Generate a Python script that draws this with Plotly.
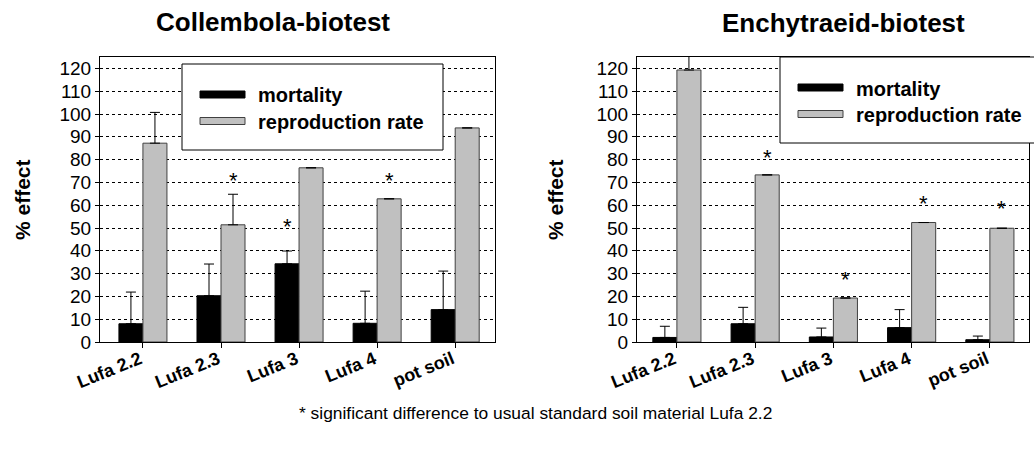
import plotly.graph_objects as go

categories = ["Lufa 2.2", "Lufa 2.3", "Lufa 3", "Lufa 4", "pot soil"]
series_names = ["mortality", "reproduction rate"]

# Collembola-biotest
col_mortality = [8.0, 20.3, 34.3, 8.2, 14.2]
col_mortality_err = [13.9, 13.9, 5.6, 14.1, 16.9]
col_reproduction = [87.2, 51.4, 76.4, 62.8, 93.9]
col_reproduction_err = [13.5, 13.4, 0, 0, 0]
col_stars = [("Lufa 2.3", "reproduction", 72.8), ("Lufa 3", "mortality", 52.4), ("Lufa 4", "reproduction", 72.8)]

# Enchytraeid-biotest
enc_mortality = [2.0, 8.0, 2.2, 6.3, 1.0]
enc_mortality_err = [4.9, 7.2, 3.9, 7.9, 1.6]
enc_reproduction = [119.3, 73.3, 19.3, 52.4, 49.9]
enc_reproduction_err = [10, 0, 0, 0, 0]
enc_stars = [("Lufa 2.3", "reproduction", 82.5), ("Lufa 3", "reproduction", 29.2),
             ("Lufa 4", "reproduction", 62.3), ("pot soil", "reproduction", 60.1)]

titles = ["Collembola-biotest", "Enchytraeid-biotest"]
y_title = "% effect"
footnote = "* significant difference to usual standard soil material Lufa 2.2"
y_ticks = list(range(0, 121, 10))

W, H = 1034, 452
FONT = "Liberation Sans, Arial, sans-serif"
BLACK, GREY, GREY_LINE = "#000000", "#C0C0C0", "#404040"

def px_x(p):
    return p / W

def px_y(p):
    return 1 - p / H

fig = go.Figure()

panels = [
    dict(xa="x", ya="y", mort=col_mortality, merr=col_mortality_err,
         rep=col_reproduction, rerr=col_reproduction_err, stars=col_stars,
         legend_box=(182, 64)),
    dict(xa="x2", ya="y2", mort=enc_mortality, merr=enc_mortality_err,
         rep=enc_reproduction, rerr=enc_reproduction_err, stars=enc_stars,
         legend_box=(780, 57)),
]

shapes = []
for p in panels:
    fig.add_trace(go.Bar(
        x=categories, y=p["mort"], name=series_names[0], xaxis=p["xa"], yaxis=p["ya"],
        showlegend=False,
        marker=dict(color=BLACK, line=dict(color=BLACK, width=1)),
        error_y=dict(type="data", array=p["merr"], arrayminus=[0] * 5, symmetric=False,
                     color=BLACK, thickness=1, width=5),
    ))
    fig.add_trace(go.Bar(
        x=categories, y=p["rep"], name=series_names[1], xaxis=p["xa"], yaxis=p["ya"],
        showlegend=False,
        marker=dict(color=GREY, line=dict(color=GREY_LINE, width=1)),
        error_y=dict(type="data", array=p["rerr"], arrayminus=[0] * 5, symmetric=False,
                     color=BLACK, thickness=1, width=5),
    ))
    for cat, series, yv in p["stars"]:
        fig.add_annotation(x=cat, y=yv, xref=p["xa"], yref=p["ya"], text="*",
                           xanchor="center", yanchor="middle",
                           showarrow=False, xshift=-12 if series == "mortality" else 12,
                           yshift=-4, font=dict(size=22, family=FONT, color=BLACK))
    # legend box
    bx, by = p["legend_box"]
    shapes.append(dict(type="rect", xref="paper", yref="paper", x0=px_x(bx), x1=px_x(bx + 261),
                       y0=px_y(by + 86), y1=px_y(by), line=dict(color=BLACK, width=1),
                       fillcolor="white", layer="above"))
    for i, (name, fill, edge) in enumerate(zip(series_names, [BLACK, GREY], [BLACK, GREY_LINE])):
        cy = by + 30.5 + 26.5 * i
        shapes.append(dict(type="rect", xref="paper", yref="paper",
                           x0=px_x(bx + 18), x1=px_x(bx + 63),
                           y0=px_y(cy + 3.5), y1=px_y(cy - 3.5),
                           fillcolor=fill, line=dict(color=edge, width=1), layer="above"))
        fig.add_annotation(x=px_x(bx + 74), y=px_y(cy + 1), xref="paper", yref="paper",
                           xanchor="left", yanchor="middle", text=name, showarrow=False,
                           font=dict(size=20, weight="bold"))

axis_common = dict(showline=True, linecolor=BLACK, linewidth=1, mirror=True, automargin=False)
xaxis_common = dict(type="category", ticks="outside", ticklen=5, tickcolor=BLACK,
                    tickangle=-22, tickfont=dict(size=18, weight="bold"),
                    ticklabelstandoff=-6, ticklabelshift=-3,
                    showgrid=False, **axis_common)
yaxis_common = dict(range=[0, 125], tickvals=y_ticks, ticks="outside", ticklen=4, tickcolor=BLACK,
                    showgrid=True, gridcolor=BLACK, griddash="dot", gridwidth=1,
                    tickfont=dict(size=19), zeroline=False, **axis_common)

fig.update_layout(
    width=W, height=H,
    margin=dict(l=0, r=0, t=0, b=0, autoexpand=False),
    paper_bgcolor="white", plot_bgcolor="white",
    barmode="group", bargap=0.385, bargroupgap=0,
    font=dict(family=FONT, color=BLACK, size=17),
    showlegend=False,
    xaxis=dict(domain=[px_x(100), px_x(495)], anchor="y", range=[-0.55, 4.51], **xaxis_common),
    yaxis=dict(domain=[px_y(342), px_y(57)], anchor="x", **yaxis_common),
    xaxis2=dict(domain=[px_x(637), px_x(1029)], anchor="y2", range=[-0.51, 4.5], **xaxis_common),
    yaxis2=dict(domain=[px_y(342), px_y(57)], anchor="x2", **yaxis_common),
    shapes=shapes,
)

# Titles, axis titles, footnote
text_common = dict(xref="paper", yref="paper", showarrow=False, xanchor="center", yanchor="middle")
fig.add_annotation(x=px_x(273), y=px_y(22), text=titles[0],
                   font=dict(size=26, weight="bold"), **text_common)
fig.add_annotation(x=px_x(843), y=px_y(23), text=titles[1],
                   font=dict(size=26, weight="bold"), **text_common)
fig.add_annotation(x=px_x(22), y=px_y(200), text=y_title, textangle=-90,
                   font=dict(size=21, weight="bold"), **text_common)
fig.add_annotation(x=px_x(555), y=px_y(200), text=y_title, textangle=-90,
                   font=dict(size=21, weight="bold"), **text_common)
fig.add_annotation(x=px_x(535), y=px_y(413), text=footnote,
                   font=dict(size=17.4), **text_common)

fig.write_html("out.html")
